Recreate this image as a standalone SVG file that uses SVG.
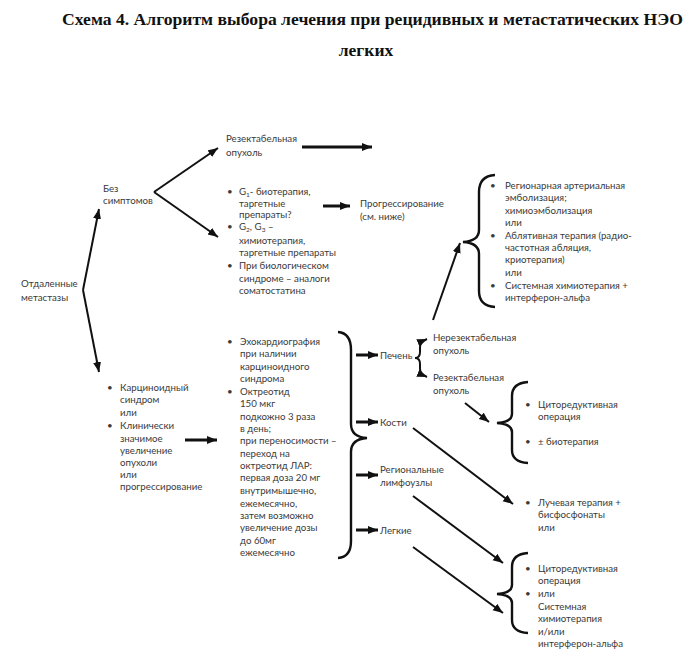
<svg xmlns="http://www.w3.org/2000/svg" width="695" height="657" viewBox="0 0 695 657">
<style>
.t{font-family:Lato,"Open Sans","Liberation Sans",sans-serif;font-size:9.7px;fill:#3a3a3a;}
.title{font-family:"Liberation Serif","Times New Roman",serif;font-size:17.5px;font-weight:bold;fill:#111;}
.ln{stroke:#111;stroke-width:2;fill:none;}
.tk{stroke:#111;stroke-width:3;fill:none;}
.br{stroke:#111;stroke-width:2.4;fill:none;}
.sub{font-size:6.5px;}
</style>
<defs>
<marker id="ah" markerUnits="userSpaceOnUse" markerWidth="12" markerHeight="10" refX="10" refY="4" orient="auto">
<path d="M0,0 L10,4 L0,8 Z" fill="#111"/>
</marker>
</defs>
<rect width="695" height="657" fill="#fff"/>
<g id="title">
<text class="title" x="372.5" y="25" text-anchor="middle" textLength="621" lengthAdjust="spacingAndGlyphs">Схема 4. Алгоритм выбора лечения при рецидивных и метастатических НЭО</text>
<text class="title" x="366" y="56" text-anchor="middle">легких</text>
</g>
<g id="connectors">
<line class="ln" x1="83" y1="290" x2="99" y2="209" marker-end="url(#ah)"/>
<line class="ln" x1="83" y1="290" x2="99" y2="372" marker-end="url(#ah)"/>
<line class="ln" x1="154" y1="192" x2="218" y2="148" marker-end="url(#ah)"/>
<line class="ln" x1="154" y1="192" x2="218" y2="237" marker-end="url(#ah)"/>
<line class="tk" x1="302" y1="147" x2="372" y2="147" marker-end="url(#ah)"/>
<line class="tk" x1="323" y1="206" x2="350" y2="206" marker-end="url(#ah)"/>
<line class="tk" x1="185" y1="440" x2="217" y2="440" marker-end="url(#ah)"/>
<line class="ln" x1="433" y1="320" x2="460" y2="243" marker-end="url(#ah)"/>
<line class="tk" x1="356" y1="355" x2="378" y2="355" marker-end="url(#ah)"/>
<line class="tk" x1="356" y1="422" x2="378" y2="422" marker-end="url(#ah)"/>
<line class="tk" x1="356" y1="475" x2="378" y2="475" marker-end="url(#ah)"/>
<line class="tk" x1="356" y1="530" x2="378" y2="530" marker-end="url(#ah)"/>
<path class="ln" d="M415,358 Q420,358 420,352 L420,347 Q420,342 427,339" marker-end="url(#ah)"/>
<path class="ln" d="M415,358 Q420,358 420,364 L420,369 Q420,374 427,377" marker-end="url(#ah)"/>
<line class="ln" x1="465" y1="403" x2="489" y2="422" marker-end="url(#ah)"/>
<line class="ln" x1="413" y1="428" x2="513" y2="504" marker-end="url(#ah)"/>
<line class="ln" x1="413" y1="496" x2="503" y2="563" marker-end="url(#ah)"/>
<line class="ln" x1="413" y1="547" x2="503" y2="613" marker-end="url(#ah)"/>
</g>
<g id="braces">
<path class="br" d="M338,332 Q351,333 351,350 L351,424 Q351,437 367,438 Q351,439 351,452 L351,541 Q351,557 338,558"/>
<path class="br" d="M495,175 Q479,176 479,192 L479,230 Q479,241 463,242 Q479,243 479,254 L479,291 Q479,306 495,307"/>
<path class="br" d="M528,382 Q512,383 512,396 L512,414 Q512,422 497,423 Q512,424 512,432 L512,450 Q512,462 528,463"/>
<path class="br" d="M528,553 Q512,554 512,567 L512,585 Q512,593 497,594 Q512,595 512,603 L512,620 Q512,632 528,633"/>
</g>
<g id="node-metastases">
<text class="t" x="21" y="287">Отдаленные</text>
<text class="t" x="21" y="301">метастазы</text>
</g>
<g id="node-no-symptoms">
<text class="t" x="103" y="192">Без</text>
<text class="t" x="103" y="204">симптомов</text>
</g>
<g id="node-resectable-top">
<text class="t" x="226" y="142">Резектабельная</text>
<text class="t" x="226" y="156">опухоль</text>
</g>
<g id="node-therapy-top">
<text class="t" x="227" y="195">•</text>
<text class="t" x="227" y="230">•</text>
<text class="t" x="227" y="269">•</text>
<text class="t" x="239" y="195">G<tspan class="sub" dy="1.5">1</tspan><tspan dy="-1.5">- биотерапия,</tspan></text>
<text class="t" x="239" y="207">таргетные</text>
<text class="t" x="239" y="218">препараты?</text>
<text class="t" x="239" y="230">G<tspan class="sub" dy="1.5">2</tspan><tspan dy="-1.5">, G</tspan><tspan class="sub" dy="1.5">3</tspan><tspan dy="-1.5"> –</tspan></text>
<text class="t" x="239" y="244">химиотерапия,</text>
<text class="t" x="239" y="256">таргетные препараты</text>
<text class="t" x="239" y="269">При биологическом</text>
<text class="t" x="239" y="282">синдроме – аналоги</text>
<text class="t" x="239" y="294">соматостатина</text>
</g>
<g id="node-progression">
<text class="t" x="360" y="207">Прогрессирование</text>
<text class="t" x="360" y="220">(см. ниже)</text>
</g>
<g id="node-liver-therapy">
<text class="t" x="490" y="189">•</text>
<text class="t" x="490" y="239">•</text>
<text class="t" x="490" y="289">•</text>
<text class="t" x="505" y="189">Регионарная артериальная</text>
<text class="t" x="505" y="201">эмболизация;</text>
<text class="t" x="505" y="214">химиоэмболизация</text>
<text class="t" x="505" y="226">или</text>
<text class="t" x="505" y="239">Аблятивная терапия (радио-</text>
<text class="t" x="505" y="251">частотная абляция,</text>
<text class="t" x="505" y="263">криотерапия)</text>
<text class="t" x="505" y="276">или</text>
<text class="t" x="505" y="289">Системная химиотерапия +</text>
<text class="t" x="505" y="301">интерферон-альфа</text>
</g>
<g id="node-carcinoid">
<text class="t" x="107" y="391">•</text>
<text class="t" x="107" y="429">•</text>
<text class="t" x="120" y="391">Карциноидный</text>
<text class="t" x="120" y="403">синдром</text>
<text class="t" x="120" y="416">или</text>
<text class="t" x="120" y="429">Клинически</text>
<text class="t" x="120" y="442">значимое</text>
<text class="t" x="120" y="454">увеличение</text>
<text class="t" x="120" y="466">опухоли</text>
<text class="t" x="120" y="478">или</text>
<text class="t" x="120" y="490">прогрессирование</text>
</g>
<g id="node-octreotide">
<text class="t" x="227" y="345">•</text>
<text class="t" x="227" y="395">•</text>
<text class="t" x="240" y="345">Эхокардиография</text>
<text class="t" x="240" y="357">при наличии</text>
<text class="t" x="240" y="370">карциноидного</text>
<text class="t" x="240" y="382">синдрома</text>
<text class="t" x="240" y="395">Октреотид</text>
<text class="t" x="240" y="407">150 мкг</text>
<text class="t" x="240" y="420">подкожно 3 раза</text>
<text class="t" x="240" y="432">в день;</text>
<text class="t" x="240" y="444">при переносимости –</text>
<text class="t" x="240" y="457">переход на</text>
<text class="t" x="240" y="469">октреотид ЛАР:</text>
<text class="t" x="240" y="481">первая доза 20 мг</text>
<text class="t" x="240" y="494">внутримышечно,</text>
<text class="t" x="240" y="507">ежемесячно,</text>
<text class="t" x="240" y="519">затем возможно</text>
<text class="t" x="240" y="531">увеличение дозы</text>
<text class="t" x="240" y="544">до 60мг</text>
<text class="t" x="240" y="556">ежемесячно</text>
</g>
<g id="node-liver"><text class="t" x="380" y="359">Печень</text></g>
<g id="node-bones"><text class="t" x="380" y="426">Кости</text></g>
<g id="node-lymph">
<text class="t" x="380" y="473">Региональные</text>
<text class="t" x="380" y="486">лимфоузлы</text>
</g>
<g id="node-lungs"><text class="t" x="380" y="534">Легкие</text></g>
<g id="node-unresectable">
<text class="t" x="433" y="341">Нерезектабельная</text>
<text class="t" x="433" y="354">опухоль</text>
</g>
<g id="node-resectable-liver">
<text class="t" x="433" y="381">Резектабельная</text>
<text class="t" x="433" y="394">опухоль</text>
</g>
<g id="node-cytoreductive-1">
<text class="t" x="525" y="408">•</text>
<text class="t" x="525" y="445">•</text>
<text class="t" x="538" y="408">Циторедуктивная</text>
<text class="t" x="538" y="420">операция</text>
<text class="t" x="538" y="445">± биотерапия</text>
</g>
<g id="node-radiation">
<text class="t" x="525" y="506">•</text>
<text class="t" x="538" y="506">Лучевая терапия +</text>
<text class="t" x="538" y="518">бисфосфонаты</text>
<text class="t" x="538" y="531">или</text>
</g>
<g id="node-cytoreductive-2">
<text class="t" x="525" y="572">•</text>
<text class="t" x="525" y="597">•</text>
<text class="t" x="538" y="572">Циторедуктивная</text>
<text class="t" x="538" y="584">операция</text>
<text class="t" x="538" y="597">или</text>
<text class="t" x="538" y="610">Системная</text>
<text class="t" x="538" y="622">химиотерапия</text>
<text class="t" x="538" y="635">и/или</text>
<text class="t" x="538" y="647">интерферон-альфа</text>
</g>
</svg>
